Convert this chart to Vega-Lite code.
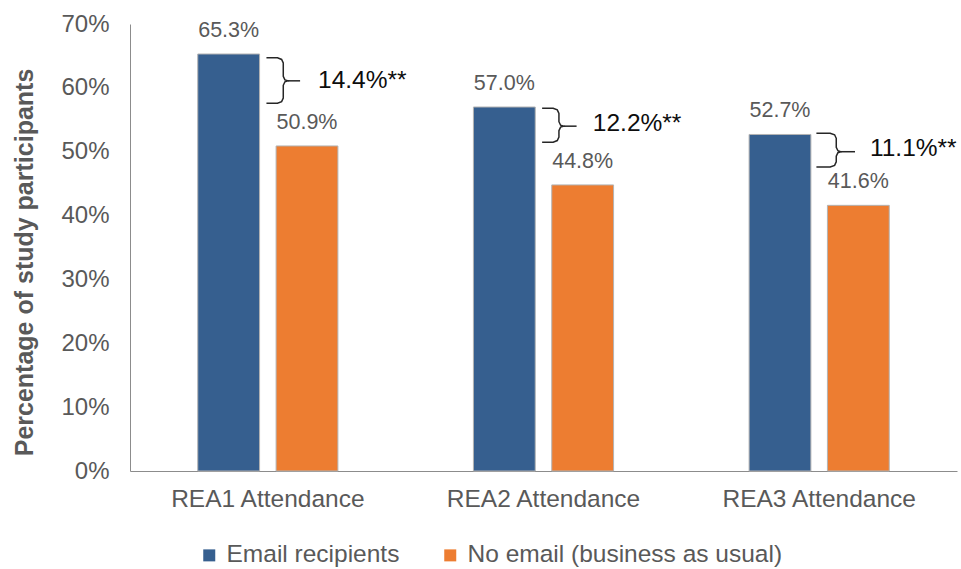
{
  "$schema": "https://vega.github.io/schema/vega-lite/v6.json",
  "width": 827,
  "height": 447,
  "autosize": {"type": "none"},
  "padding": {"left": 130, "top": 24, "right": 4, "bottom": 98},
  "background": "white",
  "config": {"view": {"stroke": null}, "font": "Liberation Sans"},
  "datasets": {
    "bars": [
      {"cat": "REA1 Attendance", "group": "Email recipients", "value": 65.3, "label": "65.3%"},
      {"cat": "REA1 Attendance", "group": "No email (business as usual)", "value": 50.9, "label": "50.9%"},
      {"cat": "REA2 Attendance", "group": "Email recipients", "value": 57.0, "label": "57.0%"},
      {"cat": "REA2 Attendance", "group": "No email (business as usual)", "value": 44.8, "label": "44.8%"},
      {"cat": "REA3 Attendance", "group": "Email recipients", "value": 52.7, "label": "52.7%"},
      {"cat": "REA3 Attendance", "group": "No email (business as usual)", "value": 41.6, "label": "41.6%"}
    ],
    "brace": [
      {"b": "1", "o": 1, "x": 0.495, "y": 64.7},
      {"b": "1", "o": 2, "x": 0.535, "y": 64.7},
      {"b": "1", "o": 3, "x": 0.550, "y": 64.45},
      {"b": "1", "o": 4, "x": 0.556, "y": 63.9},
      {"b": "1", "o": 5, "x": 0.556, "y": 61.8},
      {"b": "1", "o": 6, "x": 0.562, "y": 61.25},
      {"b": "1", "o": 7, "x": 0.573, "y": 61.1},
      {"b": "1", "o": 8, "x": 0.562, "y": 60.95},
      {"b": "1", "o": 9, "x": 0.556, "y": 60.4},
      {"b": "1", "o": 10, "x": 0.556, "y": 58.4},
      {"b": "1", "o": 11, "x": 0.550, "y": 57.85},
      {"b": "1", "o": 12, "x": 0.535, "y": 57.6},
      {"b": "1", "o": 13, "x": 0.495, "y": 57.6},
      {"b": "1t", "o": 1, "x": 0.573, "y": 61.1},
      {"b": "1t", "o": 2, "x": 0.617, "y": 61.1},
      {"b": "2", "o": 1, "x": 1.495, "y": 56.8},
      {"b": "2", "o": 2, "x": 1.535, "y": 56.8},
      {"b": "2", "o": 3, "x": 1.550, "y": 56.55},
      {"b": "2", "o": 4, "x": 1.556, "y": 56.0},
      {"b": "2", "o": 5, "x": 1.556, "y": 54.7},
      {"b": "2", "o": 6, "x": 1.562, "y": 54.15},
      {"b": "2", "o": 7, "x": 1.573, "y": 54.0},
      {"b": "2", "o": 8, "x": 1.562, "y": 53.85},
      {"b": "2", "o": 9, "x": 1.556, "y": 53.3},
      {"b": "2", "o": 10, "x": 1.556, "y": 52.3},
      {"b": "2", "o": 11, "x": 1.550, "y": 51.75},
      {"b": "2", "o": 12, "x": 1.535, "y": 51.5},
      {"b": "2", "o": 13, "x": 1.495, "y": 51.5},
      {"b": "2t", "o": 1, "x": 1.573, "y": 54.0},
      {"b": "2t", "o": 2, "x": 1.620, "y": 54.0},
      {"b": "3", "o": 1, "x": 2.490, "y": 52.9},
      {"b": "3", "o": 2, "x": 2.540, "y": 52.9},
      {"b": "3", "o": 3, "x": 2.556, "y": 52.65},
      {"b": "3", "o": 4, "x": 2.562, "y": 52.1},
      {"b": "3", "o": 5, "x": 2.562, "y": 50.7},
      {"b": "3", "o": 6, "x": 2.568, "y": 50.15},
      {"b": "3", "o": 7, "x": 2.578, "y": 50.0},
      {"b": "3", "o": 8, "x": 2.568, "y": 49.85},
      {"b": "3", "o": 9, "x": 2.562, "y": 49.3},
      {"b": "3", "o": 10, "x": 2.562, "y": 48.4},
      {"b": "3", "o": 11, "x": 2.556, "y": 47.85},
      {"b": "3", "o": 12, "x": 2.540, "y": 47.6},
      {"b": "3", "o": 13, "x": 2.490, "y": 47.6},
      {"b": "3t", "o": 1, "x": 2.578, "y": 50.0},
      {"b": "3t", "o": 2, "x": 2.630, "y": 50.0}
    ],
    "diff": [
      {"x": 0.682, "y": 61.0, "t": "14.4%**"},
      {"x": 1.679, "y": 54.4, "t": "12.2%**"},
      {"x": 2.684, "y": 50.4, "t": "11.1%**"}
    ]
  },
  "layer": [
    {
      "data": {"name": "bars"},
      "encoding": {
        "x": {
          "field": "cat", "type": "nominal", "sort": null,
          "scale": {"paddingInner": 0, "paddingOuter": 0},
          "axis": {
            "title": null, "labelAngle": 0, "labelFontSize": 24.5, "labelColor": "#595959",
            "labelPadding": 16, "labelLimit": 0, "ticks": false, "tickSize": 0,
            "domain": true, "domainColor": "#8c8c8c", "domainWidth": 1
          }
        },
        "xOffset": {
          "field": "group", "type": "nominal",
          "sort": ["Email recipients", "No email (business as usual)"],
          "scale": {"paddingInner": 0.211, "paddingOuter": 0.865}
        },
        "y": {
          "field": "value", "type": "quantitative",
          "scale": {"domain": [0, 70], "nice": false},
          "axis": {
            "values": [0, 10, 20, 30, 40, 50, 60, 70],
            "labelExpr": "datum.value + '%'",
            "labelFontSize": 24, "labelColor": "#595959", "labelPadding": 21,
            "ticks": false, "tickSize": 0, "grid": false,
            "domain": true, "domainColor": "#8c8c8c", "domainWidth": 1,
            "title": "Percentage of study participants",
            "titleFontSize": 25, "titleFontWeight": "bold", "titleColor": "#595959",
            "titleX": -98, "titleY": 238, "titleBaseline": "alphabetic", "titleAngle": -90
          }
        }
      },
      "layer": [
        {
          "mark": {"type": "bar", "stroke": "#b3b3b3", "strokeWidth": 1},
          "encoding": {
            "color": {
              "field": "group", "type": "nominal",
              "scale": {"domain": ["Email recipients", "No email (business as usual)"], "range": ["#365F8F", "#ED7D31"]},
              "legend": {
                "title": null, "orient": "none", "legendX": 67, "legendY": 519,
                "direction": "horizontal", "symbolType": "square", "symbolSize": 144,
                "symbolStrokeWidth": 0, "labelFontSize": 24.5, "labelColor": "#595959",
                "labelOffset": 5, "columnPadding": 38, "labelLimit": 0
              }
            }
          }
        },
        {
          "mark": {"type": "text", "baseline": "alphabetic", "dy": -17, "fontSize": 21.5, "color": "#595959"},
          "encoding": {"text": {"field": "label"}}
        }
      ]
    },
    {
      "data": {"name": "brace"},
      "mark": {"type": "line", "color": "#262626", "strokeWidth": 1.5},
      "encoding": {
        "x": {"field": "x", "type": "quantitative", "scale": {"domain": [0, 3], "nice": false, "zero": false}, "axis": null},
        "y": {
          "field": "y", "type": "quantitative",
          "scale": {"domain": [0, 70], "nice": false},
          "axis": {
            "values": [0, 10, 20, 30, 40, 50, 60, 70],
            "labelExpr": "datum.value + '%'",
            "labelFontSize": 24, "labelColor": "#595959", "labelPadding": 21,
            "ticks": false, "tickSize": 0, "grid": false,
            "domain": true, "domainColor": "#8c8c8c", "domainWidth": 1,
            "title": "Percentage of study participants",
            "titleFontSize": 25, "titleFontWeight": "bold", "titleColor": "#595959",
            "titleX": -98, "titleY": 238, "titleBaseline": "alphabetic", "titleAngle": -90
          }
        },
        "detail": {"field": "b"},
        "order": {"field": "o"}
      }
    },
    {
      "data": {"name": "diff"},
      "mark": {"type": "text", "align": "left", "baseline": "middle", "fontSize": 24.5, "color": "#0d0d0d"},
      "encoding": {
        "x": {"field": "x", "type": "quantitative", "scale": {"domain": [0, 3], "nice": false, "zero": false}, "axis": null},
        "y": {
          "field": "y", "type": "quantitative",
          "scale": {"domain": [0, 70], "nice": false},
          "axis": {
            "values": [0, 10, 20, 30, 40, 50, 60, 70],
            "labelExpr": "datum.value + '%'",
            "labelFontSize": 24, "labelColor": "#595959", "labelPadding": 21,
            "ticks": false, "tickSize": 0, "grid": false,
            "domain": true, "domainColor": "#8c8c8c", "domainWidth": 1,
            "title": "Percentage of study participants",
            "titleFontSize": 25, "titleFontWeight": "bold", "titleColor": "#595959",
            "titleX": -98, "titleY": 238, "titleBaseline": "alphabetic", "titleAngle": -90
          }
        },
        "text": {"field": "t"}
      }
    }
  ],
  "resolve": {"scale": {"x": "independent"}}
}
